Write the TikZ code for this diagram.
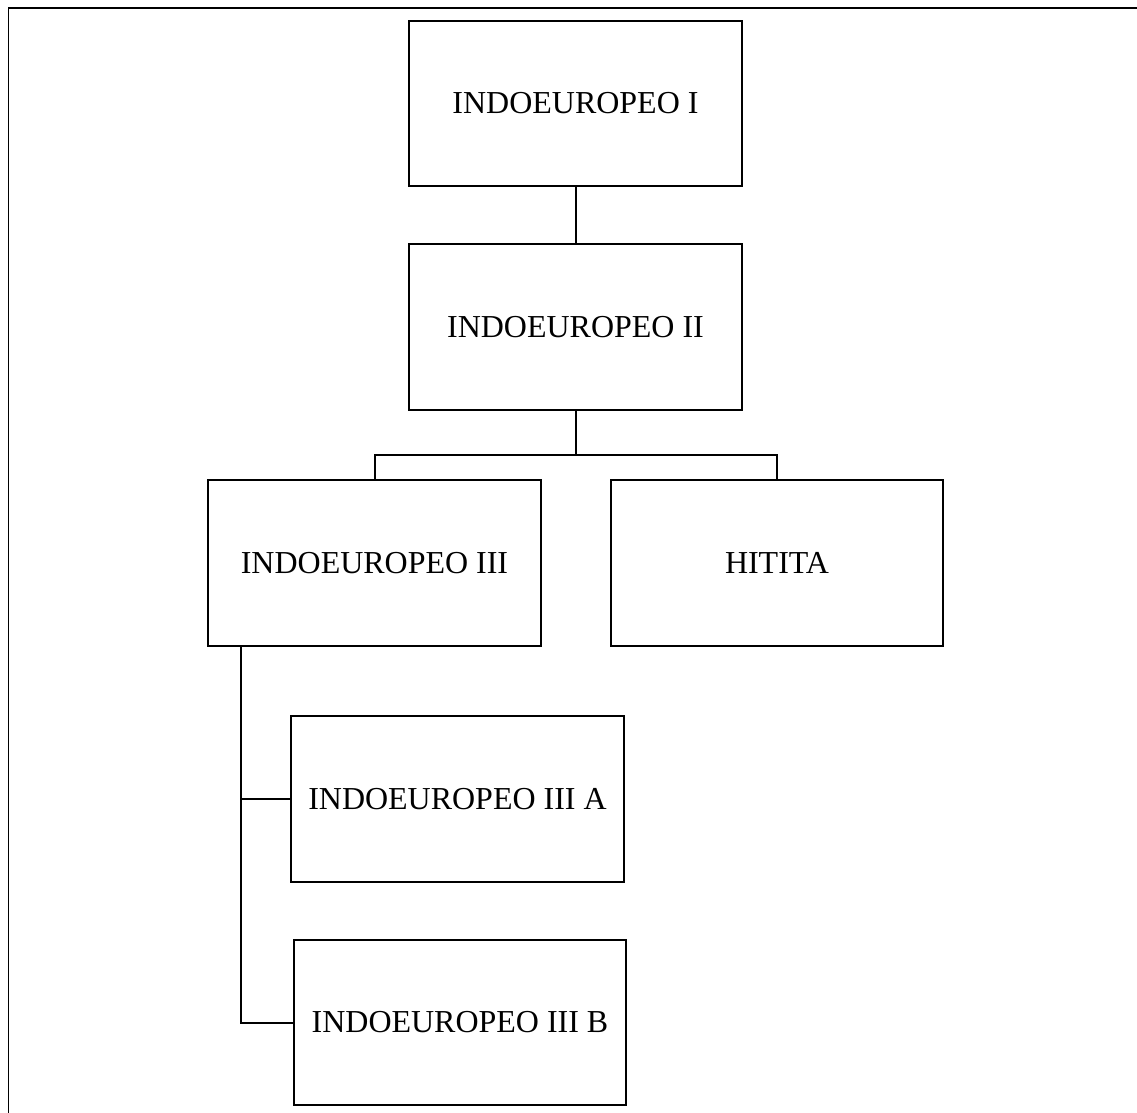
\documentclass[tikz,border=0pt]{standalone}
\usepackage{fontspec}
\setmainfont{Liberation Serif}
\usepackage{tikz}

\tikzset{
    lang/.style={draw, line width=0.04cm, minimum width=6.66cm, minimum height=3.32cm,
        inner sep=0pt, font=\fontsize{18.2}{20}\selectfont}
}

\begin{document}
\begin{tikzpicture}[x=0.02cm, y=-0.02cm, line width=0.04cm]
    \useasboundingbox (0,0) rectangle (1137,1113);
    % Page frame (left and top only)
    \draw (8.5,1113) -- (8.5,8) -- (1137,8);
    % Boxes
    \node[lang] (ie1) at (575.5,103.5) {INDOEUROPEO I};
    \node[lang] (ie2) at (575.5,327) {INDOEUROPEO II};
    \node[lang] (ie3) at (374.5,563) {INDOEUROPEO III};
    \node[lang] (hit) at (777,563) {HITITA};
    \node[lang] (ie3a) at (457.5,799) {INDOEUROPEO III A};
    \node[lang] (ie3b) at (460,1022.5) {INDOEUROPEO III B};
    % I to II
    \draw (ie1) -- (ie2);
    % II splits into III and Hitita
    \coordinate (fork) at (575.5,455);
    \draw (ie2) -- (fork);
    \draw (ie3.north) |- (fork) -| (hit.north);
    % III down to A and B
    \coordinate (trunk) at (241,646);
    \draw (trunk) |- (ie3a.west);
    \draw (trunk) |- (ie3b.west);
\end{tikzpicture}
\end{document}
